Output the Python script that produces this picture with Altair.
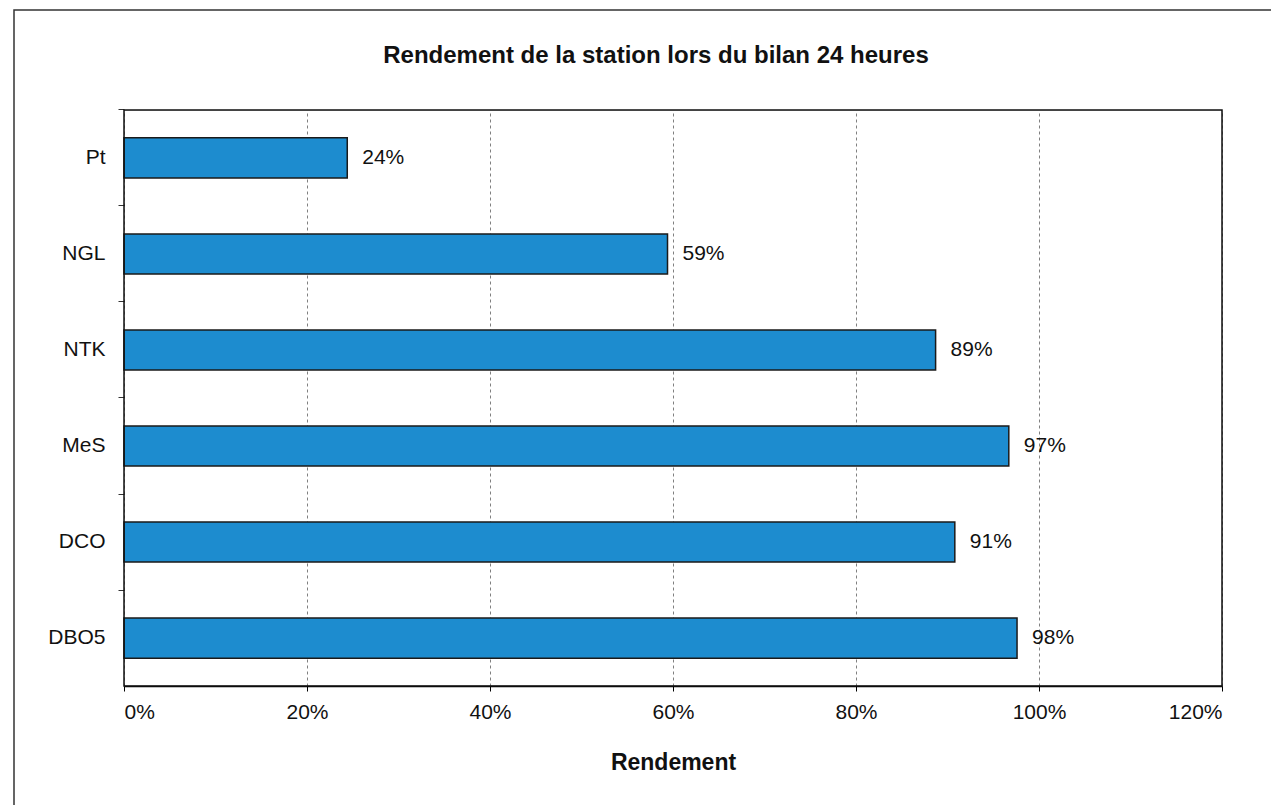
import altair as alt
import pandas as pd

title_text = "Rendement de la station lors du bilan 24 heures"
categories = ["Pt", "NGL", "NTK", "MeS", "DCO", "DBO5"]
rendement = [0.244, 0.594, 0.887, 0.967, 0.908, 0.976]
x_ticks = [0, 0.2, 0.4, 0.6, 0.8, 1.0, 1.2]

df = pd.DataFrame({"param": categories, "rendement": rendement})

FONT = "Liberation Sans"
W, H = 1098, 576

y_scale = alt.Scale(domain=categories, paddingInner=0.583, paddingOuter=0.29)
x_scale = alt.Scale(domain=[0, 1.2], nice=False)

x_enc = alt.X(
    "rendement:Q",
    scale=x_scale,
    axis=alt.Axis(
        values=x_ticks, format=".0%", title="Rendement",
        grid=True, gridDash=[3, 3], gridColor="#808080", gridWidth=1,
        domain=True, domainColor="#000", domainWidth=1.5,
        ticks=True, tickSize=5, tickColor="#000",
        labelFont=FONT, labelFontSize=21, labelColor="#111", labelPadding=10,
        titleFont=FONT, titleFontSize=23, titleFontWeight="bold", titleColor="#111",
        titlePadding=29,
    ),
)

bars = alt.Chart(df).mark_bar(color="#1d8ccf", stroke="#1a1a1a", strokeWidth=1.5).encode(
    x=x_enc,
    y=alt.Y(
        "param:N", scale=y_scale, sort=categories, title=None,
        axis=alt.Axis(
            ticks=False, domain=False, grid=False,
            labelFont=FONT, labelFontSize=21, labelColor="#111", labelPadding=19,
        ),
    ),
)

labels = alt.Chart(df).mark_text(
    align="left", baseline="middle", dx=15, font=FONT, fontSize=21, color="#111"
).encode(
    x=alt.X("rendement:Q", scale=x_scale),
    y=alt.Y(
        "param:N", scale=y_scale, sort=categories, title=None,
        axis=alt.Axis(
            orient="left", labels=False, domain=False, grid=False,
            ticks=True, tickSize=6, tickColor="#333", bandPosition=-0.7,
        ),
    ),
    text=alt.Text("rendement:Q", format=".0%"),
)

one = pd.DataFrame({"t": [title_text]})

frame = alt.Chart(one).mark_rect(
    filled=False, stroke="#333", strokeWidth=1.5
).encode(
    x=alt.value(-110), x2=alt.value(1400), y=alt.value(-100), y2=alt.value(900)
)

plot_border = alt.Chart(one).mark_rect(
    filled=False, stroke="#111", strokeWidth=1.5
).encode(
    x=alt.value(0), x2=alt.value(W), y=alt.value(0), y2=alt.value(H)
)

title = alt.Chart(one).mark_text(
    align="center", baseline="alphabetic", font=FONT, fontSize=24,
    fontWeight="bold", color="#111"
).encode(
    x=alt.value(532), y=alt.value(-47), text="t:N"
)

chart = alt.layer(frame, bars, labels, plot_border, title).resolve_axis(
    y="independent"
).properties(
    width=W,
    height=H,
    autosize=alt.AutoSizeParams(type="none"),
    padding={"left": 124, "top": 110, "right": 49, "bottom": 119},
).configure_view(
    stroke=None, fill="#f9fbfd"
).configure(background="white")

chart.save("out.html", embed_options={"renderer": "svg", "actions": False})
